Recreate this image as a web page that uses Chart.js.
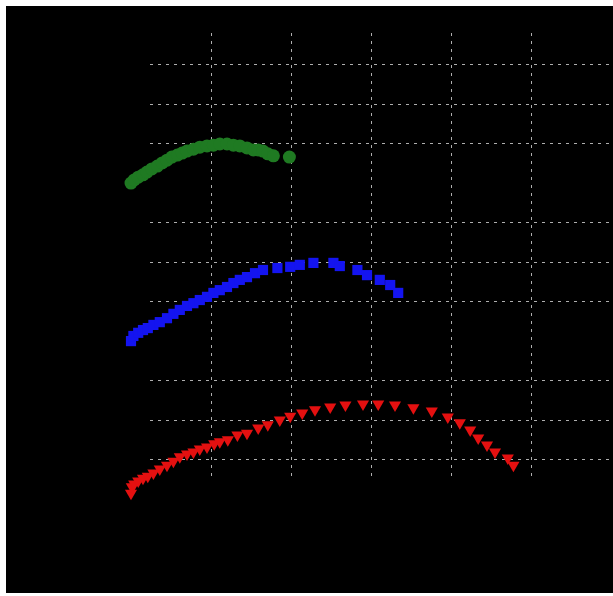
<!DOCTYPE html>
<html>
<head>
<meta charset="utf-8">
<script src="https://cdn.jsdelivr.net/npm/chart.js@4/dist/chart.umd.min.js"></script>
<style>
body{margin:0;background:#fff;overflow:hidden;}
#wrap{position:absolute;left:6px;top:6px;width:607px;height:587px;background:#000;overflow:hidden;}
#inner{position:absolute;left:0;top:0;width:616px;height:587px;}
</style>
</head>
<body>
<div id="wrap"><div id="inner"><canvas id="curvesChart"></canvas></div></div>
<script>

// ===== data =====

const xTicks = [1,2,3,4,5];
const yTicks = [1,2,3,5,6,7,9,10,11];

const greenX = [0.00,0.04,0.09,0.15,0.20,0.26,0.33,0.39,0.45,0.51,0.58,0.64,0.70,0.78,0.86,0.95,1.03,1.11,1.20,1.28,1.36,1.45,1.53,1.59,1.65,1.71,1.78,1.98];
const greenY = [8.01,8.09,8.16,8.22,8.29,8.37,8.44,8.52,8.59,8.67,8.72,8.77,8.82,8.87,8.92,8.95,8.97,9.00,9.00,8.97,8.95,8.90,8.85,8.85,8.82,8.75,8.70,8.67];

const blueX = [0.00,0.03,0.09,0.15,0.21,0.28,0.36,0.45,0.53,0.61,0.70,0.78,0.86,0.95,1.03,1.11,1.20,1.28,1.36,1.45,1.55,1.65,1.83,1.99,2.11,2.28,2.53,2.61,2.83,2.95,3.11,3.24,3.34];
const blueY = [4.01,4.14,4.22,4.29,4.34,4.42,4.49,4.59,4.70,4.80,4.90,4.97,5.05,5.13,5.23,5.30,5.38,5.48,5.56,5.63,5.73,5.81,5.86,5.89,5.94,5.99,5.99,5.91,5.81,5.68,5.56,5.43,5.23];

const redX = [0.00,0.01,0.04,0.09,0.15,0.21,0.28,0.36,0.45,0.53,0.61,0.70,0.78,0.86,0.95,1.04,1.11,1.21,1.33,1.45,1.59,1.71,1.86,1.99,2.14,2.30,2.49,2.68,2.90,3.09,3.30,3.53,3.76,3.96,4.11,4.24,4.34,4.45,4.55,4.71,4.78];
const redY = [0.16,0.32,0.39,0.47,0.54,0.59,0.67,0.77,0.87,0.97,1.08,1.15,1.20,1.28,1.33,1.41,1.46,1.51,1.63,1.68,1.81,1.89,2.01,2.11,2.19,2.27,2.34,2.39,2.42,2.42,2.39,2.32,2.24,2.09,1.94,1.76,1.56,1.38,1.20,1.05,0.87];

// axis ranges (plot area is a bit larger than the grid so edge markers still draw)
const X_MIN = -0.0625, X_MAX = 6.0375;
const Y_MIN = -0.0127, Y_MAX = 11.81;
// where the grid itself stops
const GRID_X0 = 0.2375;
const GRID_Y0 = 0.494;

function pts(xs,ys){
return xs.map((x,i)=>({x:x,y:ys[i]}));
}

// blank the grid outside its own box, before the markers are drawn
const gridMask = {
id:"gridMask",
beforeDatasetsDraw(chart){
const {ctx,chartArea,scales} = chart;
const gx = scales.x.getPixelForValue(GRID_X0);
const gy = scales.y.getPixelForValue(GRID_Y0);
ctx.save();
ctx.fillStyle = "#000";
ctx.fillRect(chartArea.left-2,chartArea.top-2,gx-chartArea.left+2,chartArea.bottom-chartArea.top+4);
ctx.fillRect(chartArea.left-2,gy+1,chartArea.right-chartArea.left+4,chartArea.bottom-gy+2);
ctx.restore();
}
};

const gridStyle = {color:"rgba(205,205,205,0.85)",lineWidth:1,drawTicks:false};

new Chart(document.getElementById("curvesChart"),{

type:"scatter",

data:{
datasets:[
{
data:pts(greenX,greenY),
pointStyle:"circle",
pointRadius:6.5,
pointBorderWidth:0,
backgroundColor:"#1f7a22",
borderColor:"#1f7a22",
clip:false
},
{
data:pts(blueX,blueY),
pointStyle:"rect",
pointRadius:7.2,
pointBorderWidth:0,
backgroundColor:"#1414f0",
borderColor:"#1414f0",
clip:false
},
{
data:pts(redX,redY),
pointStyle:"triangle",
pointRotation:180,
pointRadius:7,
pointBorderWidth:0,
backgroundColor:"#e41010",
borderColor:"#e41010",
clip:false
}
]
},

options:{
responsive:true,
maintainAspectRatio:false,
animation:false,
layout:{padding:{left:120,top:27,right:8,bottom:93}},
plugins:{legend:{display:false},tooltip:{enabled:false}},
scales:{
x:{
type:"linear",
bounds:"data",
afterDataLimits:(s)=>{s.min=X_MIN;s.max=X_MAX;},
afterBuildTicks:(s)=>{s.ticks=xTicks.map(v=>({value:v}));},
ticks:{display:false},
grid:gridStyle,
border:{display:false,dash:[3,5]}
},
y:{
type:"linear",
bounds:"data",
afterDataLimits:(s)=>{s.min=Y_MIN;s.max=Y_MAX;},
afterBuildTicks:(s)=>{s.ticks=yTicks.map(v=>({value:v}));},
ticks:{display:false},
grid:gridStyle,
border:{display:false,dash:[3,5]}
}
}
},

plugins:[gridMask]

});

</script>
</body>
</html>
